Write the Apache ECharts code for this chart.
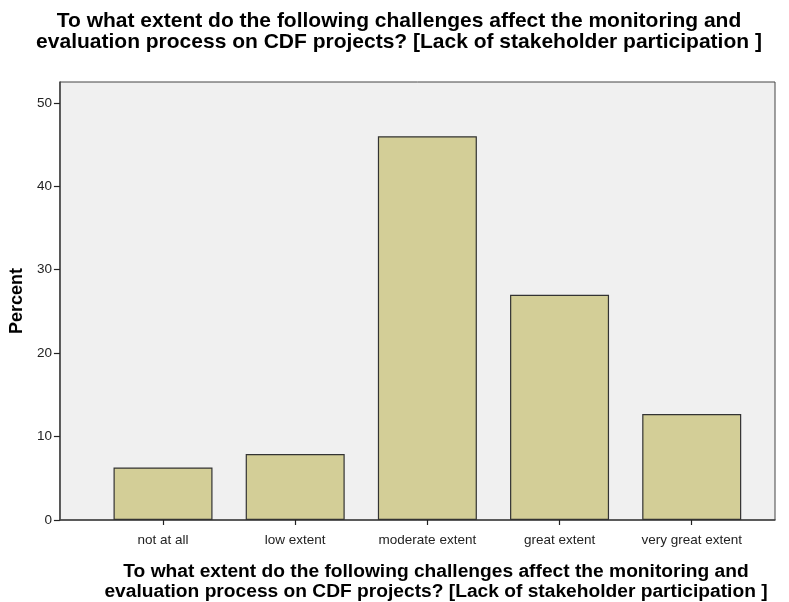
<!DOCTYPE html>
<html>
<head>
<meta charset="utf-8">
<script src="https://cdn.jsdelivr.net/npm/echarts@6/dist/echarts.min.js"></script>
<style>html,body{margin:0;padding:0;background:#fff;}#c{width:789px;height:602px;}</style>
</head>
<body>
<div id="c"></div>
<script>
var categories = ['not at all', 'low extent', 'moderate extent', 'great extent', 'very great extent'];
var percents = [6.3, 7.9, 46.0, 27.0, 12.7];
var yTicks = [0, 10, 20, 30, 40, 50];
var titleText = 'To what extent do the following challenges affect the monitoring and\nevaluation process on CDF projects? [Lack of stakeholder participation ]';

var chart = echarts.init(document.getElementById('c'));
var idx = categories.map(function (c, i) { return i; });
chart.setOption({
  backgroundColor: '#ffffff',
  animation: false,
  title: [{
    text: titleText,
    left: 394, top: 6, textAlign: 'center',
    textStyle: { fontFamily: 'Liberation Sans', fontWeight: 'bold', fontSize: 21, lineHeight: 21, color: '#000' }
  }, {
    text: titleText,
    left: 431, top: 557, textAlign: 'center',
    textStyle: { fontFamily: 'Liberation Sans', fontWeight: 'bold', fontSize: 19.2, lineHeight: 20, color: '#000' }
  }],
  grid: {
    left: 59, right: 14, top: 82, bottom: 82,
    show: true, backgroundColor: '#f0f0f0', borderColor: '#444', borderWidth: 1
  },
  xAxis: {
    type: 'value',
    min: -0.78, max: 4.63,
    splitLine: { show: false },
    axisLine: { show: true, onZero: false, lineStyle: { color: '#444', width: 1.5 } },
    axisTick: { show: true, customValues: idx, length: 5, lineStyle: { color: '#222', width: 1.2 } },
    axisLabel: {
      customValues: idx,
      formatter: function (v) { return categories[Math.round(v)]; },
      fontFamily: 'Liberation Sans', fontSize: 13.5, color: '#222', margin: 13
    }
  },
  yAxis: {
    type: 'value',
    min: 0, max: 52.5,
    name: 'Percent', nameLocation: 'middle', nameGap: 33, nameRotate: 90,
    nameTextStyle: { fontFamily: 'Liberation Sans', fontWeight: 'bold', fontSize: 18, color: '#000' },
    splitLine: { show: false },
    axisLine: { show: true, onZero: false, lineStyle: { color: '#444', width: 1.5 } },
    axisTick: { show: true, customValues: yTicks, length: 6, lineStyle: { color: '#222', width: 1.2 } },
    axisLabel: { customValues: yTicks, fontFamily: 'Liberation Sans', fontSize: 13.5, color: '#222', margin: 8 }
  },
  series: [{
    type: 'bar',
    barWidth: 99,
    data: percents.map(function (v, i) { return [i, v]; }),
    itemStyle: { color: '#d3ce97', borderColor: '#333', borderWidth: 1.2 }
  }]
});
</script>
</body>
</html>
